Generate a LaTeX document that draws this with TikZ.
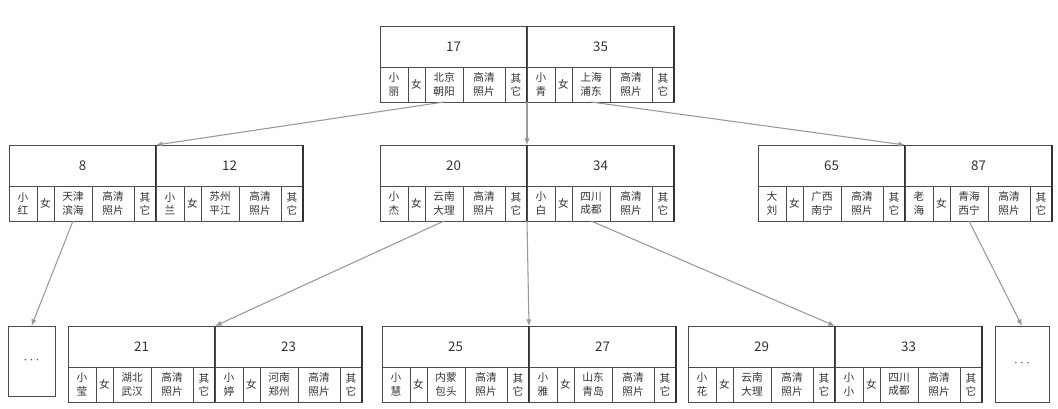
\documentclass[tikz,border=0pt]{standalone}
\usepackage{fontspec}
\setmainfont{Noto Sans CJK SC}
\usetikzlibrary{arrows.meta}

\newcommand{\px}{0.75pt}
% one half of a record: key on top, five fields below
\newcommand{\halfrec}[6]{%
  \node[keycell, anchor=north west] (#1) at (#2,#3) {#4};
  \node[fieldcell, minimum width=28*\px, anchor=north west] (#1-n) at (#1.south west) {#5};
  \node[fieldcell, minimum width=17*\px, anchor=north west] (#1-s) at (#1-n.north east) {女};
  \node[fieldcell, minimum width=38*\px, anchor=north west] (#1-a) at (#1-s.north east) {#6};
  \node[fieldcell, minimum width=42*\px, anchor=north west] (#1-p) at (#1-a.north east) {高清\\照片};
  \node[fieldcell, minimum width=22*\px, anchor=north west] (#1-e) at (#1-p.north east) {其\\它};
  \draw[divider] (#1.north east) -- (#1-e.south east);
}

\begin{document}
\begin{tikzpicture}[
  x=0.75pt, y=-0.75pt,
  keycell/.style={draw=black!70, rectangle, inner sep=0pt, outer sep=0pt, minimum width=147*\px, minimum height=41*\px, text=black!80, font=\fontsize{10}{12}\selectfont},
  fieldcell/.style={draw=black!70, rectangle, inner sep=0pt, outer sep=0pt, minimum height=35*\px, align=center, text=black!80, font=\fontsize{8}{10}\selectfont},
  dotsbox/.style={draw=black!70, rectangle, inner sep=0pt, outer sep=0pt, text=black!80},
  divider/.style={draw=black!80, line width=0.8pt},
  link/.style={draw=black!40, line width=0.8pt, -{Latex[length=5pt, width=4pt]}}
]
  \useasboundingbox (0,0) rectangle (1058,409);

  % root
  \halfrec{t1}{380}{26}{17}{小\\丽}{北京\\朝阳}
  \halfrec{t2}{527}{26}{35}{小\\青}{上海\\浦东}

  % second level
  \halfrec{s1}{9}{145}{8}{小\\红}{天津\\滨海}
  \halfrec{s2}{156}{145}{12}{小\\兰}{苏州\\平江}
  \halfrec{s3}{380}{145}{20}{小\\杰}{云南\\大理}
  \halfrec{s4}{527}{145}{34}{小\\白}{四川\\成都}
  \halfrec{s5}{758}{145}{65}{大\\刘}{广西\\南宁}
  \halfrec{s6}{905}{145}{87}{老\\海}{青海\\西宁}

  % leaves
  \node[dotsbox, minimum width=47*\px, minimum height=70*\px, anchor=north west] (dotsl) at (8,326) {$\cdots$};
  \halfrec{b1}{68}{326}{21}{小\\莹}{湖北\\武汉}
  \halfrec{b2}{215}{326}{23}{小\\婷}{河南\\郑州}
  \halfrec{b3}{382}{326}{25}{小\\慧}{内蒙\\包头}
  \halfrec{b4}{529}{326}{27}{小\\雅}{山东\\青岛}
  \halfrec{b5}{688}{326}{29}{小\\花}{云南\\大理}
  \halfrec{b6}{835}{326}{33}{小\\小}{四川\\成都}
  \node[dotsbox, minimum width=54*\px, minimum height=76*\px, anchor=north west] (dotsr) at (995,326) {$\cdots$};

  % pointers
  \draw[link] (t1-a.south) -- (s1.north east);
  \draw[link] (t1-e.south east) -- (s3.north east);
  \draw[link] (t2-a.south) -- (s5.north east);
  \draw[link] (s1-a.south) -- (dotsl.north);
  \draw[link] (s3-a.south) -- (b1.north east);
  \draw[link] (s3-e.south east) -- (b3.north east);
  \draw[link] (s4-a.south) -- (b5.north east);
  \draw[link] (s6-a.south) -- (dotsr.north);

\end{tikzpicture}
\end{document}
